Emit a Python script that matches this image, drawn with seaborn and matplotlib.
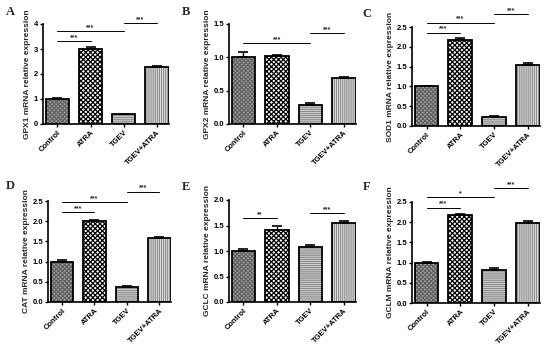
import matplotlib
matplotlib.use('Agg')
import matplotlib.pyplot as plt
import seaborn as sns
import pandas as pd
from matplotlib.patches import Rectangle
from matplotlib.ticker import FormatStrFormatter

sns.set_style('white')
plt.rcParams['font.family'] = ['Liberation Sans', 'DejaVu Sans']
plt.rcParams['hatch.linewidth'] = 0.9

groups = ['Control', 'ATRA', 'TGEV', 'TGEV+ATRA']

gpx1 = [1.00, 3.00, 0.38, 2.28]
gpx1_err = [0.03, 0.06, 0.03, 0.05]
gpx2 = [1.01, 1.02, 0.29, 0.69]
gpx2_err = [0.07, 0.01, 0.02, 0.01]
sod1 = [1.00, 2.18, 0.22, 1.55]
sod1_err = [0.02, 0.03, 0.02, 0.05]
cat = [1.00, 2.00, 0.38, 1.58]
cat_err = [0.03, 0.04, 0.02, 0.04]
gclc = [1.00, 1.42, 1.07, 1.55]
gclc_err = [0.03, 0.08, 0.04, 0.04]
gclm = [1.00, 2.17, 0.82, 1.98]
gclm_err = [0.02, 0.03, 0.05, 0.04]

genes = ['GPX1', 'GPX2', 'SOD1', 'CAT', 'GCLC', 'GCLM']
letters = ['A', 'B', 'C', 'D', 'E', 'F']
ymax = [4, 1.5, 2.5, 2.5, 2.0, 2.5]
ystep = [1, 0.5, 0.5, 0.5, 0.5, 0.5]
sig_a = [(0, 1, 3.33, '***'), (0, 2, 3.72, '***'), (2, 3, 4.05, '***')]
sig_b = [(0, 2, 1.21, '***'), (2, 3, 1.36, '***')]
sig_c = [(0, 1, 2.36, '***'), (0, 2, 2.61, '***'), (2, 3, 2.83, '***')]
sig_d = [(0, 1, 2.23, '***'), (0, 2, 2.48, '***'), (2, 3, 2.73, '***')]
sig_e = [(0, 1, 1.64, '**'), (2, 3, 1.74, '***')]
sig_f = [(0, 1, 2.36, '***'), (0, 2, 2.62, '*'), (2, 3, 2.84, '***')]

values = [gpx1, gpx2, sod1, cat, gclc, gclm]
errors = [gpx1_err, gpx2_err, sod1_err, cat_err, gclc_err, gclm_err]
sigs = [sig_a, sig_b, sig_c, sig_d, sig_e, sig_f]

# axes boxes in pixels: left, top, right, bottom
boxes = [(43, 24, 169, 124), (229, 24, 356, 124), (412, 27, 540, 126),
         (48, 201, 171, 302), (229, 200, 356, 302), (412, 202, 540, 303)]
letter_pos = [(10, 12), (186, 12), (367, 14), (10, 186), (186, 187), (367, 187)]

styles = [
    dict(face='#a6a6a6', hc='#606060', hatch='xxxxxxxx'),
    dict(face='white', hc='black', hatch='xxxxxxx'),
    dict(face='#dcdcdc', hc='#8c8c8c', hatch='--------'),
    dict(face='#ececec', hc='#8c8c8c', hatch='||||||||'),
]

W, H = 550, 349
fig = plt.figure(figsize=(W / 100, H / 100), dpi=100)

for k in range(6):
    l, t, r, b = boxes[k]
    ax = fig.add_axes([l / W, 1 - b / H, (r - l) / W, (b - t) / H])
    df = pd.DataFrame({'group': groups, 'value': values[k]})
    sns.barplot(data=df, x='group', y='value', order=groups, color='white',
                width=0.7, errorbar=None, ax=ax)
    patches = list(ax.patches)
    xs = []
    for p, st in zip(patches, styles):
        p.set_facecolor(st['face'])
        p.set_edgecolor(st['hc'])
        p.set_hatch(st['hatch'])
        p.set_linewidth(0)
        ax.add_patch(Rectangle((p.get_x(), p.get_y()), p.get_width(), p.get_height(),
                               fill=False, edgecolor='black', lw=1.3, zorder=3))
        xs.append(p.get_x() + p.get_width() / 2)
    ax.errorbar(xs, values[k], yerr=[[0] * 4, errors[k]], fmt='none', ecolor='black',
                elinewidth=1.0, capsize=3.5, capthick=1.2, zorder=4)
    for i, j, y, s in sigs[k]:
        ax.plot([xs[i], xs[j]], [y, y], color='black', lw=0.7, clip_on=False)
        ax.text((xs[i] + xs[j]) / 2, y, s, ha='center', va='bottom', fontsize=5,
                fontweight='bold', clip_on=False)
    ax.set_xlim(-0.43, 3.36)
    ax.set_ylim(0, ymax[k])
    ticks = [i * ystep[k] for i in range(int(round(ymax[k] / ystep[k])) + 1)]
    ax.set_yticks(ticks)
    if ystep[k] >= 1:
        ax.yaxis.set_major_formatter(FormatStrFormatter('%d'))
    else:
        ax.yaxis.set_major_formatter(FormatStrFormatter('%.1f'))
    ax.set_xticks(range(4))
    ax.set_xticklabels(groups, rotation=45, ha='right', rotation_mode='anchor',
                       fontsize=5.5, fontweight='bold')
    for lab in ax.get_yticklabels():
        lab.set_fontsize(5.5)
        lab.set_fontweight('bold')
    ax.set_xlabel('')
    ax.set_ylabel(genes[k] + ' mRNA relative expression', fontsize=6,
                  fontweight='bold', labelpad=2)
    for side in ['top', 'right']:
        ax.spines[side].set_visible(False)
    for side in ['left', 'bottom']:
        ax.spines[side].set_linewidth(1.2)
        ax.spines[side].set_color('black')
    ax.tick_params(axis='both', direction='out', length=2.5, width=1.0, pad=1,
                   bottom=True, left=True, colors='black')
    ax.set_facecolor('none')
    fig.text(letter_pos[k][0] / W, 1 - letter_pos[k][1] / H, letters[k],
             family=['Liberation Serif', 'DejaVu Serif'], fontweight='bold',
             fontsize=9, ha='center', va='center')

fig.savefig('out.png', dpi=100)
